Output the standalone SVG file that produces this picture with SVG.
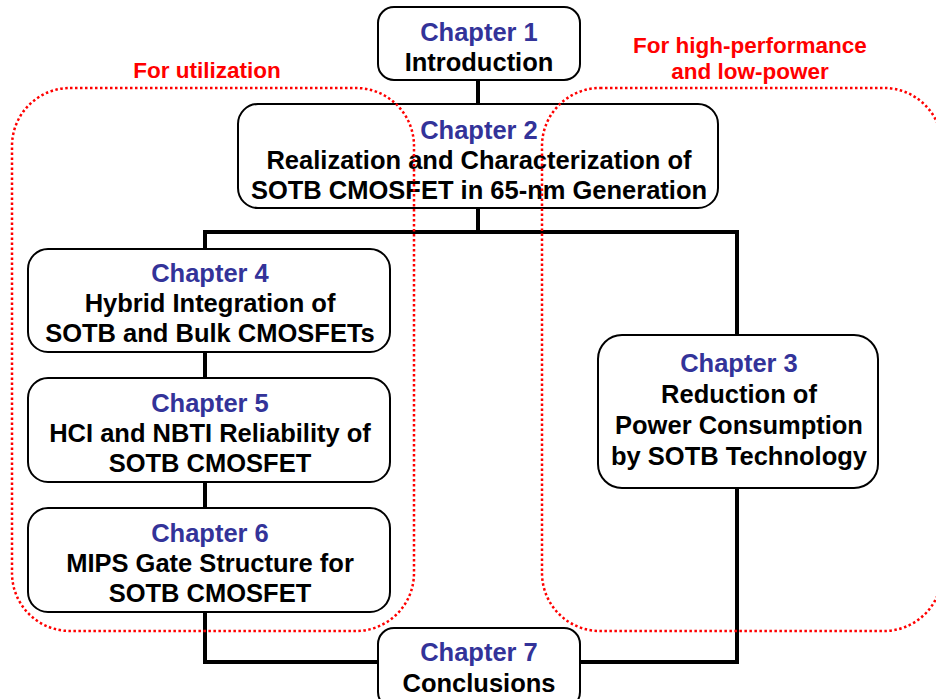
<svg xmlns="http://www.w3.org/2000/svg" width="936" height="699" viewBox="0 0 936 699">
<style>
.box{fill:#fff;stroke:#000;stroke-width:2}
.t{font-family:"Liberation Sans",Arial,sans-serif;font-weight:bold;font-size:25.5px;text-anchor:middle;fill:#000}
.c{fill:#333399}
.r{font-family:"Liberation Sans",Arial,sans-serif;font-weight:bold;font-size:22.5px;text-anchor:middle;fill:#ff0000}
.conn{fill:none;stroke:#000;stroke-width:4}
.reg{fill:none;stroke:#ff0000;stroke-width:2.5;stroke-dasharray:2.5 2.5}
</style>
<g id="connectors">
<line class="conn" x1="478" y1="80" x2="478" y2="104" stroke-width="3"/>
<line class="conn" x1="478" y1="208" x2="478" y2="232"/>
<polyline class="conn" points="205,250 205,232 737,232 737,662 580,662"/>
<line class="conn" x1="205" y1="352" x2="205" y2="378"/>
<line class="conn" x1="205" y1="482" x2="205" y2="508"/>
<polyline class="conn" points="205,612 205,662 378,662"/>
</g>
<g id="ch1">
<rect class="box" x="378" y="7" width="202" height="73" rx="16"/>
<text class="t c" x="479" y="41">Chapter 1</text>
<text class="t" x="479" y="71">Introduction</text>
</g>
<g id="ch2">
<rect class="box" x="238" y="104" width="480" height="104" rx="20"/>
<text class="t c" x="479" y="139">Chapter 2</text>
<text class="t" x="479" y="169">Realization and Characterization of</text>
<text class="t" x="479" y="199">SOTB CMOSFET in 65-nm Generation</text>
</g>
<g id="ch4">
<rect class="box" x="28" y="249" width="362" height="103" rx="20"/>
<text class="t c" x="210" y="282">Chapter 4</text>
<text class="t" x="210" y="312">Hybrid Integration of</text>
<text class="t" x="210" y="342">SOTB and Bulk CMOSFETs</text>
</g>
<g id="ch5">
<rect class="box" x="28" y="378" width="362" height="104" rx="20"/>
<text class="t c" x="210" y="412">Chapter 5</text>
<text class="t" x="210" y="442">HCI and NBTI Reliability of</text>
<text class="t" x="210" y="472">SOTB CMOSFET</text>
</g>
<g id="ch6">
<rect class="box" x="28" y="508" width="362" height="104" rx="20"/>
<text class="t c" x="210" y="542">Chapter 6</text>
<text class="t" x="210" y="572">MIPS Gate Structure for</text>
<text class="t" x="210" y="602">SOTB CMOSFET</text>
</g>
<g id="ch3">
<rect class="box" x="598" y="335" width="280" height="153" rx="24"/>
<text class="t c" x="739" y="372">Chapter 3</text>
<text class="t" x="739" y="403">Reduction of</text>
<text class="t" x="739" y="434">Power Consumption</text>
<text class="t" x="739" y="465">by SOTB Technology</text>
</g>
<g id="ch7">
<rect class="box" x="378" y="628" width="202" height="80" rx="16"/>
<text class="t c" x="479" y="661">Chapter 7</text>
<text class="t" x="479" y="692">Conclusions</text>
</g>
<g id="regions">
<rect class="reg" x="12" y="88" width="402" height="543" rx="58" ry="58"/>
<rect class="reg" x="542" y="88" width="400" height="543" rx="58" ry="58"/>
<text class="r" x="207" y="78">For utilization</text>
<text class="r" x="750" y="53">For high-performance</text>
<text class="r" x="750" y="79">and low-power</text>
</g>
</svg>
